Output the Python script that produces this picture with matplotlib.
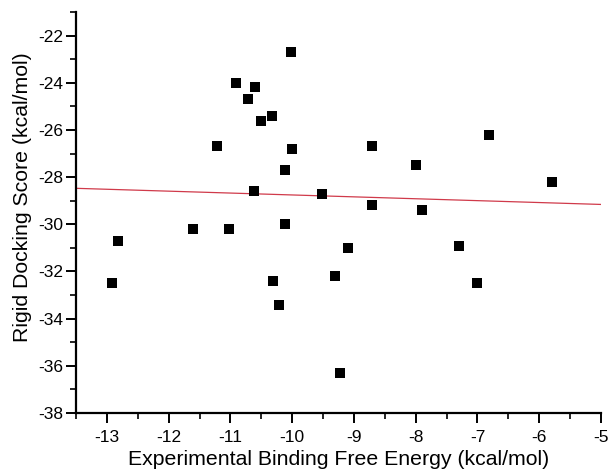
import numpy as np
import matplotlib
matplotlib.use("Agg")
import matplotlib.pyplot as plt
from matplotlib.ticker import MultipleLocator

# experimental binding free energy (kcal/mol)
exp_dg = [-12.91, -12.82, -11.61, -11.02, -11.21, -10.91, -10.71, -10.60,
          -10.51, -10.32, -10.02, -10.01, -10.11, -10.61, -10.11, -10.31,
          -10.21, -9.51, -8.71, -8.71, -8.00, -7.90, -6.81, -5.80,
          -9.10, -9.31, -9.22, -7.30, -7.00]
# rigid docking score (kcal/mol)
dock_score = [-32.5, -30.7, -30.2, -30.2, -26.7, -24.0, -24.7, -24.2,
              -25.6, -25.4, -22.7, -26.8, -27.7, -28.6, -30.0, -32.4,
              -33.4, -28.7, -26.7, -29.2, -27.5, -29.4, -26.2, -28.2,
              -31.0, -32.2, -36.3, -30.9, -32.5]

plt.rcParams["font.family"] = ["Liberation Sans", "DejaVu Sans"]
plt.rcParams["axes.unicode_minus"] = False
fig = plt.figure(figsize=(6.11, 4.73), dpi=100)
ax = fig.add_axes([0.1244, 0.1268, 0.8592, 0.8478])

ax.scatter(exp_dg, dock_score, marker="s", s=42, color="black", zorder=3, linewidths=0)

# linear fit
slope, intercept = np.polyfit(exp_dg, dock_score, 1)
xs = np.array([-13.5, -5.0])
ax.plot(xs, slope * xs + intercept, color="#d03a4a", linewidth=0.9, zorder=2)

ax.set_xlim(-13.5, -5)
ax.set_ylim(-38, -21)
ax.xaxis.set_major_locator(MultipleLocator(1))
ax.xaxis.set_minor_locator(MultipleLocator(0.5))
ax.yaxis.set_major_locator(MultipleLocator(2))
ax.yaxis.set_minor_locator(MultipleLocator(1))

for side in ("top", "right"):
    ax.spines[side].set_visible(False)
for side in ("left", "bottom"):
    ax.spines[side].set_linewidth(1.6)

ax.tick_params(which="major", length=7, width=1.4, labelsize=12.5, direction="out", pad=2)
ax.tick_params(axis="x", which="major", pad=5)
ax.tick_params(which="minor", length=4, width=1.2, direction="out")

ax.set_xlabel("Experimental Binding Free Energy (kcal/mol)", fontsize=15.3, labelpad=4)
ax.set_ylabel("Rigid Docking Score (kcal/mol)", fontsize=15.3)
ax.yaxis.set_label_coords(-0.083, 0.539)

fig.savefig("out.png", dpi=100)
